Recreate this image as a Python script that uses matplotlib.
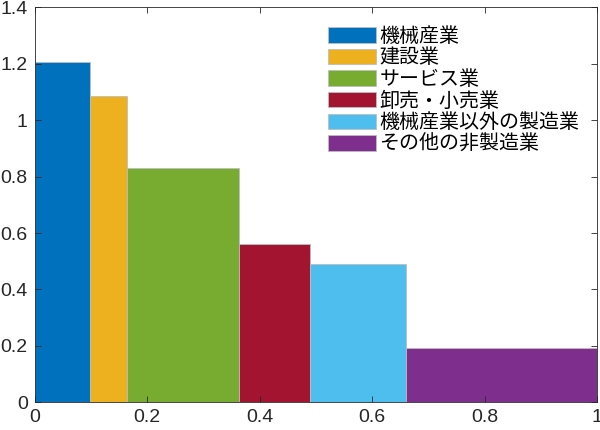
import numpy as np
import matplotlib
matplotlib.use('Agg')
import matplotlib.pyplot as plt

plt.rcParams['font.family'] = ['Noto Sans CJK JP', 'DejaVu Sans']

industries = ['機械産業', '建設業', 'サービス業', '卸売・小売業', '機械産業以外の製造業', 'その他の非製造業']
widths = [0.0977, 0.0663, 0.199, 0.126, 0.1705, 0.3405]   # share of x axis
heights = [1.207, 1.085, 0.829, 0.560, 0.491, 0.1935]
colors = ['#0072BD', '#EDB120', '#77AC30', '#A2142F', '#4DBEEE', '#7E2F8E']

lefts = np.concatenate([[0], np.cumsum(widths)[:-1]])

fig = plt.figure(figsize=(6, 4.3), dpi=100)
ax = fig.add_axes([0.058, 0.0644, 0.9375, 0.9186])

for l, w, h, c, lab in zip(lefts, widths, heights, colors, industries):
    ax.bar(l, h, width=w, align='edge', color=c, edgecolor='#bdbdbd', linewidth=0.6, label=lab)

ax.set_xlim(0, 1)
ax.set_ylim(0, 1.4)
ax.set_xticks(np.arange(0, 1.01, 0.2))
ax.set_xticklabels(['0', '0.2', '0.4', '0.6', '0.8', '1'])
ax.set_yticks(np.arange(0, 1.41, 0.2))
ax.set_yticklabels(['0', '0.2', '0.4', '0.6', '0.8', '1', '1.2', '1.4'])
ax.tick_params(direction='in', top=True, right=True, labelsize=14, colors='#262626', length=4, width=0.6, pad=5)
for t in ax.get_xticklabels() + ax.get_yticklabels():
    t.set_family('Liberation Sans')
for s in ax.spines.values():
    s.set_color('#262626')
    s.set_linewidth(0.6)

ax.legend(loc='upper left', bbox_to_anchor=(0.546, 0.94), bbox_transform=fig.transFigure,
          frameon=False, fontsize=14.4, handlelength=2.4, handleheight=0.8,
          labelspacing=0.03, handletextpad=0.2, borderaxespad=0, borderpad=0)

fig.savefig('out.png', dpi=100)
